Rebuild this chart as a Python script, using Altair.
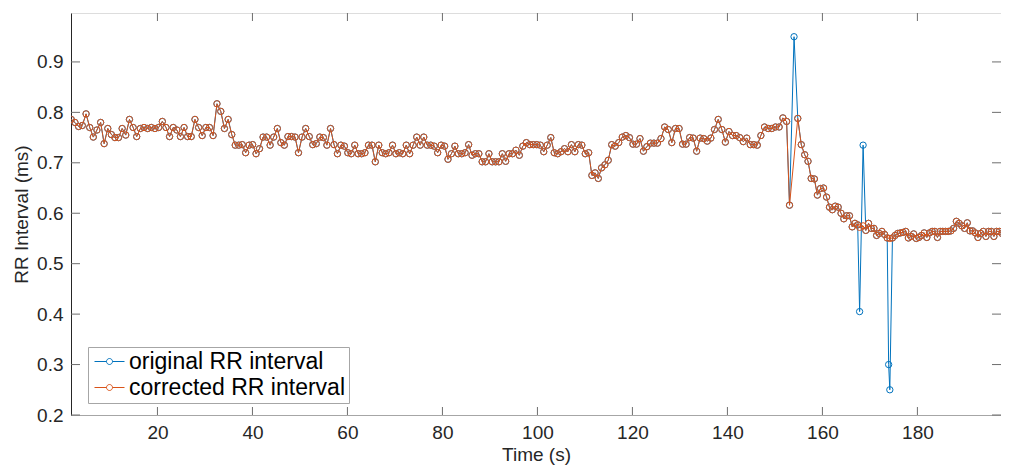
import altair as alt
import numpy as np
import pandas as pd

# ---- data (RR interval values, seconds on time axis) ----
seg_a = [
    0.786, 0.78, 0.772, 0.774, 0.797, 0.77, 0.751, 0.765, 0.78, 0.738,
    0.768, 0.756, 0.75, 0.75, 0.768, 0.755, 0.786, 0.77, 0.752, 0.768,
    0.77, 0.768, 0.77, 0.768, 0.77, 0.782, 0.77, 0.752, 0.77, 0.765,
    0.752, 0.77, 0.752, 0.752, 0.786, 0.77, 0.754, 0.77, 0.77, 0.754,
    0.817, 0.802, 0.768, 0.786, 0.756, 0.735, 0.735, 0.736, 0.72, 0.735,
    0.736, 0.718, 0.728,
    0.751, 0.751, 0.735, 0.751, 0.768, 0.74, 0.735, 0.752, 0.752, 0.751,
    0.72, 0.751, 0.768, 0.752, 0.736, 0.738, 0.751, 0.75, 0.735, 0.768,
    0.736, 0.718, 0.735, 0.733, 0.72, 0.718, 0.735, 0.718, 0.718, 0.72,
    0.735, 0.735, 0.702, 0.735, 0.72, 0.718, 0.72, 0.735, 0.718, 0.72,
    0.718, 0.735, 0.718, 0.735, 0.751, 0.735, 0.751, 0.735, 0.735, 0.733,
    0.72, 0.735, 0.733,
    0.707, 0.718, 0.733, 0.718, 0.718, 0.72, 0.736, 0.715, 0.718, 0.718,
    0.702, 0.702, 0.718, 0.702, 0.702, 0.702, 0.718, 0.703, 0.718, 0.718,
    0.725, 0.715, 0.733, 0.74, 0.736, 0.736, 0.736, 0.735, 0.722, 0.735,
    0.75, 0.72, 0.718, 0.722, 0.728, 0.722, 0.736, 0.722, 0.736, 0.735,
    0.718, 0.72, 0.675, 0.68, 0.669, 0.69, 0.696, 0.705, 0.736,
    0.733, 0.74, 0.751,
    0.754, 0.75, 0.737, 0.737, 0.748, 0.723, 0.732, 0.739, 0.739, 0.739, 0.748,
    0.771, 0.766, 0.74, 0.768, 0.768, 0.737, 0.737, 0.75, 0.749, 0.723,
    0.749, 0.748, 0.743, 0.749, 0.766, 0.786, 0.766, 0.741, 0.762, 0.754,
    0.754, 0.75, 0.742, 0.749, 0.736, 0.736, 0.735, 0.754, 0.771, 0.768,
    0.768, 0.771, 0.771, 0.789, 0.782, 0.616,
]
spike_orig = [0.95]
seg_b = [
    0.788, 0.736, 0.716, 0.703, 0.669, 0.668, 0.636, 0.649, 0.65, 0.632,
    0.612, 0.607, 0.614, 0.612, 0.6, 0.589, 0.595, 0.595, 0.573, 0.58, 0.577,
]
art1_orig = [0.405, 0.735]
art1_corr = [0.572, 0.575]
seg_c = [0.566, 0.58, 0.57, 0.57, 0.556, 0.56, 0.564, 0.558, 0.551]
art2_orig = [0.30, 0.25]
art2_corr = [0.55]
seg_d = [
    0.551, 0.556, 0.56, 0.561, 0.562, 0.564, 0.551, 0.554, 0.559, 0.55,
    0.552, 0.556, 0.561, 0.552, 0.561, 0.564, 0.564, 0.552, 0.564, 0.564,
    0.564, 0.564, 0.565, 0.57, 0.584, 0.58, 0.575, 0.57, 0.581, 0.565,
    0.565, 0.561, 0.552, 0.56, 0.564, 0.554, 0.564, 0.564, 0.554, 0.564,
    0.564, 0.56, 0.564, 0.564, 0.56, 0.564,
]
t_start = 1.85

x_ticks = [20, 40, 60, 80, 100, 120, 140, 160, 180]
y_ticks = [0.2, 0.3, 0.4, 0.5, 0.6, 0.7, 0.8, 0.9]
x_domain = [1.8, 197.6]
y_domain = [0.2, 0.997]
series_names = ["original RR interval", "corrected RR interval"]
series_colors = ["#0072BD", "#D95319"]

# ---- beat times: each RR value is placed at the beat that ends it ----
orig_vals = seg_a + spike_orig + seg_b + art1_orig + seg_c + art2_orig + seg_d
orig_times = t_start + np.concatenate([[0.0], np.cumsum(orig_vals[1:])])

i_spike = len(seg_a)
i_b0 = i_spike + 1
i_art1 = i_b0 + len(seg_b)
i_c0 = i_art1 + len(art1_orig)
i_art2 = i_c0 + len(seg_c)
i_d0 = i_art2 + len(art2_orig)

corr_times = (list(orig_times[:i_spike]) + list(orig_times[i_b0:i_art1])
              + list(orig_times[i_art1:i_c0]) + list(orig_times[i_c0:i_art2])
              + [orig_times[i_art2 + 1]] + list(orig_times[i_d0:]))
corr_vals = seg_a + seg_b + art1_corr + seg_c + art2_corr + seg_d

df = pd.concat([
    pd.DataFrame({"t": orig_times, "v": orig_vals, "series": series_names[0]}),
    pd.DataFrame({"t": corr_times, "v": corr_vals, "series": series_names[1]}),
], ignore_index=True)

W, H = 930, 402
FONT = "Liberation Sans"
TXT = "#262626"

xs = alt.Scale(domain=x_domain, nice=False, zero=False)
ys = alt.Scale(domain=y_domain, nice=False, zero=False)

legend_path = "M-1.5,0H-0.3M0.3,0H1.5M0.3,0A0.3,0.3,0,1,1,-0.3,0A0.3,0.3,0,1,1,0.3,0"

color = alt.Color(
    "series:N",
    scale=alt.Scale(domain=series_names, range=series_colors),
    legend=alt.Legend(
        orient="none", legendX=17, legendY=334, title=None,
        symbolType=legend_path, symbolSize=400, symbolStrokeWidth=1,
        symbolFillColor="transparent",
        labelFont=FONT, labelFontSize=23, labelColor="#000000", labelLimit=0,
        padding=3, symbolOffset=7, labelOffset=8, rowPadding=2,
        strokeColor="#a6a6a6", fillColor="#ffffff", cornerRadius=0,
    ),
)

x_enc = alt.X("t:Q", scale=xs, axis=alt.Axis(
    values=x_ticks, title="Time (s)", ticks=False, grid=False,
    domainColor="#a6a6a6", labelFont=FONT, labelFontSize=19, labelColor=TXT,
    labelPadding=8, titleFont=FONT, titleFontSize=19, titleFontWeight="normal",
    titleColor=TXT, titlePadding=3, labelFlush=False))
y_enc = alt.Y("v:Q", scale=ys, axis=alt.Axis(
    values=y_ticks, format=".1f", title="RR Interval (ms)", ticks=False, grid=False,
    domainColor="#262626", labelFont=FONT, labelFontSize=19, labelColor=TXT,
    labelPadding=8, titleFont=FONT, titleFontSize=19, titleFontWeight="normal",
    titleColor=TXT, titlePadding=5, labelFlush=False))

layers = []
for name in series_names:
    sub = alt.Chart(df).transform_filter(alt.datum.series == name)
    layers.append(sub.mark_line(strokeWidth=1, clip=True).encode(x=x_enc, y=y_enc, color=color))
    layers.append(sub.mark_point(filled=False, size=40, strokeWidth=1, opacity=1, clip=True)
                  .encode(x=x_enc, y=y_enc, color=color))

xt = pd.DataFrame({"t": x_ticks})
yt = pd.DataFrame({"v": y_ticks})
tick_col = "#6e6e6e"
bottom_ticks = alt.Chart(xt).mark_rule(color=tick_col, strokeWidth=1).encode(
    x=alt.X("t:Q", scale=xs), y=alt.value(H), y2=alt.value(H - 8))
top_ticks = alt.Chart(xt).mark_rule(color=tick_col, strokeWidth=1).encode(
    x=alt.X("t:Q", scale=xs), y=alt.value(0), y2=alt.value(8))
left_ticks = alt.Chart(yt).mark_rule(color=tick_col, strokeWidth=1).encode(
    y=alt.Y("v:Q", scale=ys), x=alt.value(0), x2=alt.value(9))
right_ticks = alt.Chart(yt).mark_rule(color=tick_col, strokeWidth=1).encode(
    y=alt.Y("v:Q", scale=ys), x=alt.value(W), x2=alt.value(W - 9))

chart = alt.layer(*layers, bottom_ticks, top_ticks, left_ticks, right_ticks).properties(
    width=W, height=H,
    autosize=alt.AutoSizeParams(type="none"),
    padding={"left": 63, "top": 5, "right": 0, "bottom": 50},
).configure_view(stroke="#a6a6a6", strokeWidth=1).configure(background="white")

chart.save("out.html", embed_options={"renderer": "svg", "actions": False})
